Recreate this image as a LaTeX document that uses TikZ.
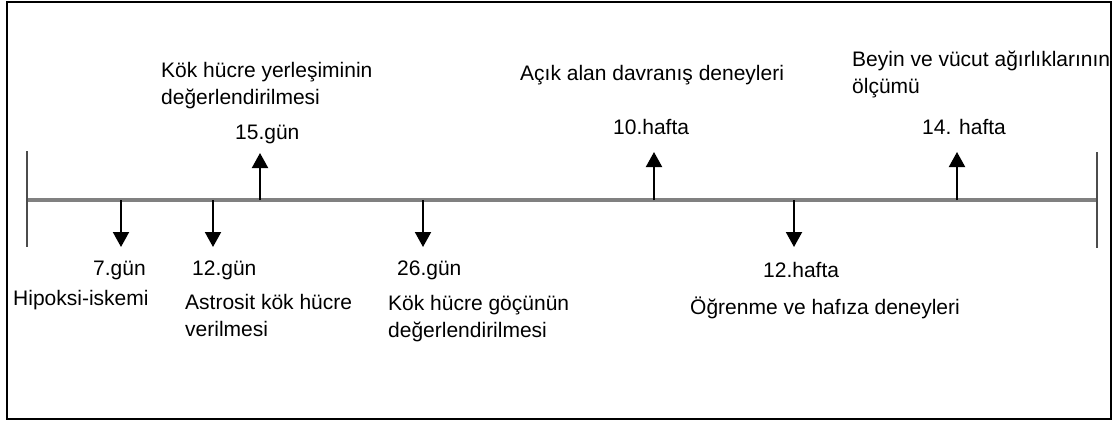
\documentclass[tikz,border=0pt]{standalone}
\usepackage{fontspec}
\setmainfont{Liberation Sans}
\usetikzlibrary{arrows.meta}
\begin{document}
\begin{tikzpicture}[x=1pt,y=-1pt,
  lbl/.style={inner sep=0pt, anchor=base west, align=left,
    font=\fontsize{21}{27}\selectfont},
  axisline/.style={draw=gray, line width=3.5pt},
  endtick/.style={draw=black!70, line width=2pt},
  evarrow/.style={draw=black, line width=2pt, -{Triangle[width=16pt,length=15pt]}}]
  % frame
  \useasboundingbox (0,0) rectangle (1114,421);
  \draw[line width=2.5pt] (7,2) rectangle (1111,419);

  % time axis with end ticks
  \coordinate (start) at (27,200);
  \coordinate (end) at (1097,200);
  \draw[axisline] (start) -- (end);
  \draw[endtick] (27,151) -- (27,247);
  \draw[endtick] (1097,152) -- (1097,248);

  % points on the axis and arrow tips
  \coordinate (t7) at (121,200);   \coordinate (a7) at (121,247);
  \coordinate (t12) at (213,200);  \coordinate (a12) at (213,247);
  \coordinate (t15) at (260,200);  \coordinate (a15) at (260,153);
  \coordinate (t26) at (423,200);  \coordinate (a26) at (423,247);
  \coordinate (w10) at (654,200);  \coordinate (b10) at (654,152);
  \coordinate (w12) at (794,200);  \coordinate (b12) at (794,247);
  \coordinate (w14) at (957,200);  \coordinate (b14) at (957,152);

  \draw[evarrow] (t7) -- (a7);
  \draw[evarrow] (t12) -- (a12);
  \draw[evarrow] (t15) -- (a15);
  \draw[evarrow] (t26) -- (a26);
  \draw[evarrow] (w10) -- (b10);
  \draw[evarrow] (w12) -- (b12);
  \draw[evarrow] (w14) -- (b14);

  % labels above the axis (two-line labels sit on their last line)
  \node[lbl] (yerles) at (161,104) {Kök hücre yerleşiminin\\değerlendirilmesi};
  \node[lbl] (g15) at (235,139) {15.gün};
  \node[lbl] (acik) at (520,80) {Açık alan davranış deneyleri};
  \node[lbl] (h10) at (613,134) {10.hafta};
  \node[lbl] (beyin) at (852,93) {Beyin ve vücut ağırlıklarının\\ölçümü};
  \node[lbl] (h14) at (922,134) {14. hafta};

  % labels below the axis
  \node[lbl] (g7) at (93,275) {7.gün};
  \node[lbl] (g12) at (192,275) {12.gün};
  \node[lbl] (hip) at (13,305) {Hipoksi-iskemi};
  \node[lbl] (astro) at (185,336) {Astrosit kök hücre\\verilmesi};
  \node[lbl] (g26) at (397,275) {26.gün};
  \node[lbl] (goc) at (388,337) {Kök hücre göçünün\\değerlendirilmesi};
  \node[lbl] (h12) at (763,277) {12.hafta};
  \node[lbl] (ogr) at (690,314) {Öğrenme ve hafıza deneyleri};
\end{tikzpicture}
\end{document}
